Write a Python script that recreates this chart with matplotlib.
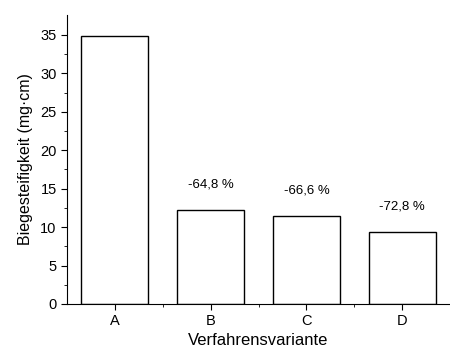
import matplotlib.pyplot as plt
import numpy as np

plt.rcParams['font.family'] = ['Liberation Sans', 'DejaVu Sans']

# Data
categories = ['A', 'B', 'C', 'D']
values = [34.9, 12.2, 11.5, 9.4]
changes = ['', '-64,8 %', '-66,6 %', '-72,8 %']

fig = plt.figure(figsize=(4.5, 3.49), dpi=100)
ax = fig.add_axes([0.149, 0.129, 0.851, 0.828])

x = np.arange(len(categories))
ax.bar(x, values, width=0.7, color='white', edgecolor='black', linewidth=1.0)

# percentage change labels above bars
for i, (v, txt) in enumerate(zip(values, changes)):
    if txt:
        ax.text(i, v + 3.3, txt, ha='center', va='center', fontsize=9.5)

ax.set_xlim(-0.5, 3.45)
ax.set_ylim(0, 37.6)
ax.set_xticks(x)
ax.set_xticklabels(categories)
ax.set_yticks(np.arange(0, 36, 5))
ax.set_yticks(np.arange(2.5, 36, 5), minor=True)
ax.set_xticks(x + 0.5, minor=True)

ax.spines['top'].set_visible(False)
ax.spines['right'].set_visible(False)
ax.tick_params(axis='both', which='major', direction='out', length=4, labelsize=10.5)
ax.tick_params(axis='both', which='minor', direction='out', length=2)

ax.set_xlabel('Verfahrensvariante', fontsize=12, labelpad=3)
ax.set_ylabel('Biegesteifigkeit (mg·cm)', fontsize=11.5, labelpad=5)

fig.savefig('out.png', dpi=100)
